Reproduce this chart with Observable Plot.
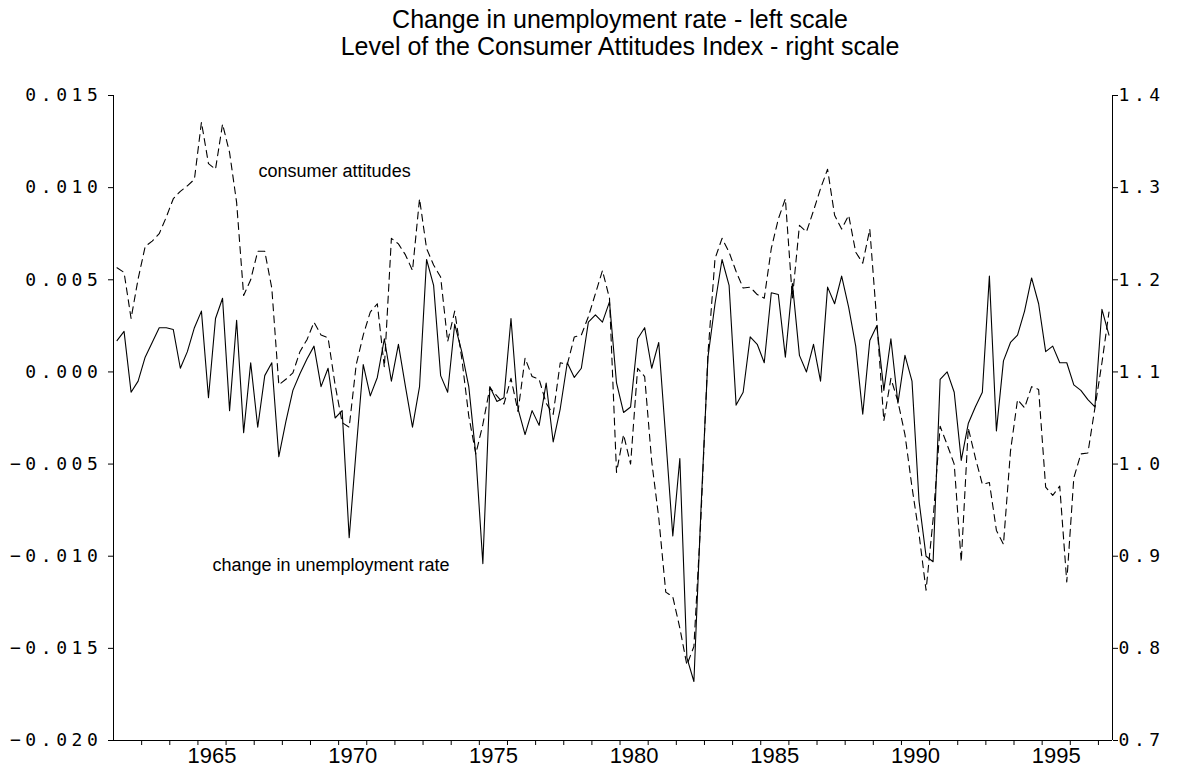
<!DOCTYPE html>
<html>
<head>
<meta charset="utf-8">
<script src="https://cdn.jsdelivr.net/npm/d3@7"></script>
<script src="https://cdn.jsdelivr.net/npm/@observablehq/plot@0.6"></script>
<style>
  body { margin: 0; background: #fff; }
  #wrap { position: relative; width: 1179px; height: 767px; overflow: hidden; }
  #title { position: absolute; top: 6px; left: 0; width: 1240px; text-align: center;
           font-family: "Liberation Sans", Arial, sans-serif; font-size: 25px; line-height: 27px; color: #000; }
  g[aria-label="y-axis tick label"] text { letter-spacing: 4.6px; }
</style>
</head>
<body>
<div id="wrap">
  <div id="chart"></div>
  <div id="title">Change in unemployment rate - left scale<br>Level of the Consumer Attitudes Index - right scale</div>
</div>
<script>
// quarterly observations, first one is 1962Q1
const startYear = 1962;

// change in unemployment rate (left scale)
const unempChange = [
  0.0017, 0.0022,-0.0011,-0.0005, 0.0008, 0.0016, 0.0024, 0.0024, 0.0023, 0.0002,
  0.0011, 0.0024, 0.0033,-0.0014, 0.0029, 0.0040,-0.0021, 0.0028,-0.0033, 0.0005,
 -0.0030,-0.0002, 0.0005,-0.0046,-0.0027,-0.0010,-0.0001, 0.0007, 0.0014,-0.0008,
  0.0002,-0.0025,-0.0021,-0.0090,-0.0042, 0.0004,-0.0013,-0.0003, 0.0018,-0.0005,
  0.0015,-0.0008,-0.0030,-0.0008, 0.0061, 0.0047,-0.0002,-0.0011, 0.0026, 0.0011,
 -0.0008,-0.0045,-0.0104,-0.0008,-0.0016,-0.0014, 0.0029,-0.0020,-0.0034,-0.0021,
 -0.0029,-0.0006,-0.0038,-0.0020, 0.0005,-0.0003, 0.0002, 0.0027, 0.0031, 0.0027,
  0.0038,-0.0006,-0.0022,-0.0019, 0.0018, 0.0024, 0.0002, 0.0016,-0.0036,-0.0089,
 -0.0047,-0.0155,-0.0168,-0.0075, 0.0008, 0.0037, 0.0061, 0.0047,-0.0018,-0.0011,
  0.0019, 0.0015, 0.0005, 0.0043, 0.0042, 0.0008, 0.0048, 0.0009, 0.0000, 0.0015,
 -0.0005, 0.0046, 0.0037, 0.0052, 0.0035, 0.0014,-0.0023, 0.0017, 0.0025,-0.0010,
  0.0018,-0.0017, 0.0009,-0.0005,-0.0070,-0.0100,-0.0103,-0.0004, 0.0000,-0.0011,
 -0.0048,-0.0028,-0.0019,-0.0011, 0.0052,-0.0032, 0.0006, 0.0016, 0.0020, 0.0033,
  0.0051, 0.0037, 0.0011, 0.0014, 0.0005, 0.0005,-0.0007,-0.0010,-0.0015,-0.0019,
  0.0034, 0.0020
];

// level of the Consumer Attitudes Index (right scale)
const attitudes = [
  1.213, 1.208, 1.158, 1.201, 1.236, 1.242, 1.250, 1.268, 1.288, 1.296,
  1.302, 1.309, 1.371, 1.326, 1.320, 1.369, 1.338, 1.284, 1.183, 1.200,
  1.231, 1.231, 1.191, 1.086, 1.092, 1.099, 1.122, 1.135, 1.154, 1.140,
  1.137, 1.086, 1.045, 1.040, 1.108, 1.140, 1.165, 1.174, 1.105, 1.245,
  1.239, 1.227, 1.210, 1.288, 1.234, 1.216, 1.203, 1.133, 1.166, 1.115,
  1.052, 1.011, 1.043, 1.083, 1.074, 1.065, 1.093, 1.057, 1.115, 1.095,
  1.092, 1.066, 1.054, 1.110, 1.108, 1.138, 1.140, 1.160, 1.185, 1.210,
  1.180, 0.991, 1.032, 1.000, 1.104, 1.095, 1.003, 0.942, 0.861, 0.856,
  0.822, 0.782, 0.802, 0.942, 1.120, 1.223, 1.245, 1.230, 1.209, 1.191,
  1.192, 1.184, 1.180, 1.234, 1.266, 1.288, 1.180, 1.259, 1.252, 1.275,
  1.299, 1.320, 1.270, 1.255, 1.270, 1.230, 1.218, 1.255, 1.155, 1.047,
  1.093, 1.068, 1.032, 0.975, 0.924, 0.863, 0.940, 1.041, 1.021, 1.000,
  0.894, 1.039, 1.007, 0.978, 0.980, 0.928, 0.913, 1.014, 1.070, 1.061,
  1.084, 1.081, 0.975, 0.966, 0.976, 0.872, 0.985, 1.011, 1.012, 1.061,
  1.110, 1.165
];

const leftTicks = [-0.020, -0.015, -0.010, -0.005, 0.000, 0.005, 0.010, 0.015];
const leftTickLabels = ["\u22120.020", "\u22120.015", "\u22120.010", "\u22120.005", "0.000", "0.005", "0.010", "0.015"];
const rightTicks = [0.7, 0.8, 0.9, 1.0, 1.1, 1.2, 1.3, 1.4];
const rightTickLabels = ["0.7", "0.8", "0.9", "1.0", "1.1", "1.2", "1.3", "1.4"];
const yearLabels = [1965, 1970, 1975, 1980, 1985, 1990, 1995];
const yearTickYears = d3.range(1963, 1998);

const leftDomain = [-0.020, 0.015];
const rightDomain = [0.7, 1.4];
// map right-scale value onto left scale
const toLeft = a => leftDomain[0] + (a - rightDomain[0]) * (leftDomain[1] - leftDomain[0]) / (rightDomain[1] - rightDomain[0]);

const rows = unempChange.map((u, i) => ({ t: startYear + i / 4, u, a: toLeft(attitudes[i]) }));
const xDomain = [rows[0].t - 0.125, rows[rows.length - 1].t + 0.125];

const axisFont = "DejaVu Sans Mono";
const rightTickPos = rightTicks.map(toLeft);

const chart = Plot.plot({
  width: 1179,
  height: 767,
  marginTop: 95,
  marginBottom: 27,
  marginLeft: 113,
  marginRight: 67,
  style: { background: "transparent", color: "black" },
  x: { domain: xDomain, axis: null },
  y: { domain: leftDomain, axis: null },
  marks: [
    Plot.axisY({ anchor: "left", ticks: leftTicks, tickSize: 5, tickPadding: 6, label: null,
      tickFormat: d => leftTickLabels[leftTicks.indexOf(d)], fontFamily: axisFont, fontSize: 18 }),
    Plot.axisY({ anchor: "right", ticks: rightTickPos, tickSize: 5, tickPadding: 1, label: null,
      tickFormat: d => rightTickLabels[rightTickPos.indexOf(d)], fontFamily: axisFont, fontSize: 18 }),
    Plot.axisX({ ticks: yearTickYears.map(y => y - 0.125), tickSize: 5, tickFormat: () => "", label: null }),
    Plot.text(yearLabels, { x: d => d + 0.375, y: leftDomain[0], dy: 15, text: d => String(d),
      fontFamily: "Liberation Sans", fontSize: 22, fill: "black", textAnchor: "middle", ariaLabel: "year-label" }),
    Plot.ruleX([xDomain[0]], { stroke: "black", strokeWidth: 1 }),
    Plot.ruleX([xDomain[1]], { stroke: "black", strokeWidth: 1 }),
    Plot.ruleY([leftDomain[0]], { stroke: "black", strokeWidth: 1 }),
    Plot.line(rows, { x: "t", y: "a", stroke: "black", strokeWidth: 1.1, strokeDasharray: "7,5" }),
    Plot.line(rows, { x: "t", y: "u", stroke: "black", strokeWidth: 1.1 }),
    Plot.text(["consumer attitudes"], { x: 1967.03, y: 0.0109, text: d => d, textAnchor: "start",
      fontFamily: "Liberation Sans", fontSize: 18, fill: "black" }),
    Plot.text(["change in unemployment rate"], { x: 1965.39, y: -0.0105, text: d => d, textAnchor: "start",
      fontFamily: "Liberation Sans", fontSize: 18, fill: "black" })
  ]
});
d3.select(chart).selectAll('g[aria-label="year-label"] text')
  .attr("textLength", 43)
  .attr("lengthAdjust", "spacingAndGlyphs");
document.getElementById("chart").appendChild(chart);
</script>
</body>
</html>
